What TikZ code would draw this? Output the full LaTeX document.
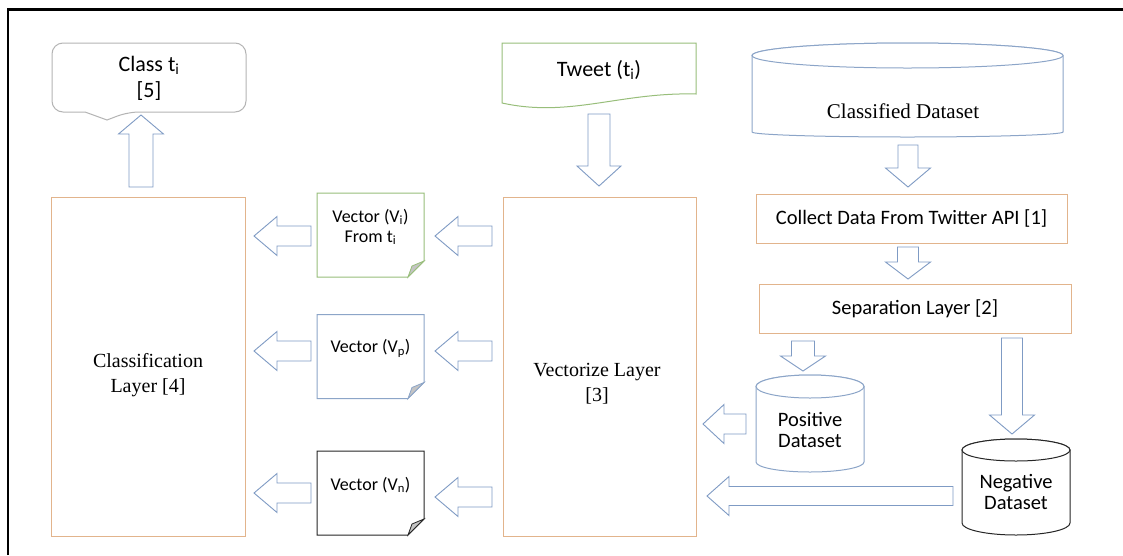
\documentclass[tikz,border=0pt]{standalone}
\usepackage{fontspec}
\setmainfont{Liberation Serif}
\newfontfamily\calibri{Carlito}
\usetikzlibrary{calc}
\definecolor{orangeb}{HTML}{E2B48C}
\definecolor{greenb}{HTML}{98BE7A}
\definecolor{blueb}{HTML}{8CA5C8}
\definecolor{arrowb}{HTML}{7F9BC4}
\definecolor{grayb}{HTML}{B4B4B4}
\definecolor{foldfill}{HTML}{C4C4C4}
\definecolor{darkb}{HTML}{262626}
\tikzset{
  layerbox/.style={draw=orangeb, line width=1pt, fill=white, inner sep=0pt},
  serifbig/.style={font=\fontsize{20}{25}\selectfont, align=center, inner sep=0pt},
  sansmid/.style={font=\calibri\fontsize{20.5}{21}\selectfont, align=center, inner sep=0pt},
  sanssmall/.style={font=\calibri\fontsize{18}{20}\selectfont, align=center, inner sep=0pt},
  sansbig/.style={font=\calibri\fontsize{22}{26}\selectfont, align=center, inner sep=0pt},
  blockarrow/.style={draw=arrowb, line width=0.9pt, fill=white, line join=miter},
  notebox/.style={line width=1pt, fill=white},
  cylshape/.style={line width=1pt, fill=white},
  holder/.style={inner sep=0pt, outer sep=0pt},
}
% block arrows: #1 tail, #2 tip, #3 shaft half width, #4 head half width, #5 head length
\newcommand{\barrowdown}[5]{\draw[blockarrow] let \p1=(#1),\p2=(#2) in
  (\x1-#3pt,\y1) -- (\x1+#3pt,\y1) -- (\x1+#3pt,\y2+#5pt) -- (\x1+#4pt,\y2+#5pt) -- (\x1,\y2)
  -- (\x1-#4pt,\y2+#5pt) -- (\x1-#3pt,\y2+#5pt) -- cycle;}
\newcommand{\barrowup}[5]{\draw[blockarrow] let \p1=(#1),\p2=(#2) in
  (\x1-#3pt,\y1) -- (\x1-#3pt,\y2-#5pt) -- (\x1-#4pt,\y2-#5pt) -- (\x1,\y2)
  -- (\x1+#4pt,\y2-#5pt) -- (\x1+#3pt,\y2-#5pt) -- (\x1+#3pt,\y1) -- cycle;}
\newcommand{\barrowleft}[5]{\draw[blockarrow] let \p1=(#1),\p2=(#2) in
  (\x1,\y1+#3pt) -- (\x2+#5pt,\y1+#3pt) -- (\x2+#5pt,\y1+#4pt) -- (\x2,\y1)
  -- (\x2+#5pt,\y1-#4pt) -- (\x2+#5pt,\y1-#3pt) -- (\x1,\y1-#3pt) -- cycle;}
% cylinder: #1 colour, #2 cx, #3 top centre y, #4 rx, #5 top ry, #6 bottom y, #7 bottom ry
\newcommand{\cylinderdraw}[7]{%
  \draw[cylshape, draw=#1] (#2-#4,#3) -- (#2-#4,#6)
    arc[start angle=180, end angle=360, x radius=#4pt, y radius=#7pt]
    -- (#2+#4,#3) arc[start angle=0, end angle=180, x radius=#4pt, y radius=#5pt] -- cycle;
  \draw[cylshape, draw=#1] (#2,#3) ellipse[x radius=#4pt, y radius=#5pt];}
% folded note: #1 name, #2 colour, #3 position, #4 text
\newcommand{\notedraw}[4]{%
  \node[holder, minimum width=107pt, minimum height=84pt] (#1) at (#3) {};
  \draw[notebox, draw=#2] (#1.north west) -- (#1.north east) -- ($(#1.south east)+(0,-16)$)
    -- ($(#1.south east)+(-16,0)$) -- (#1.south west) -- cycle;
  \filldraw[fill=foldfill, draw=#2, line width=0.8pt] ($(#1.south east)+(0,-16)$)
    -- ($(#1.south east)+(-16,0)$) -- ($(#1.south east)+(-12,-11)$) -- cycle;
  \node[sanssmall] (#1txt) at ($(#1.center)+(0,-8)$) {#4};}

\begin{document}
\begin{tikzpicture}[x=1pt,y=-1pt]
\useasboundingbox (0,0) rectangle (1123,555);
\fill[white] (0,0) rectangle (1123,555);
% frame
\draw[line width=2.5pt] (8,555) -- (8,9.5) -- (1123,9.5);

% ---- callout: Class t_i [5]
\draw[draw=grayb, line width=1pt, fill=white] (52,80) [rounded corners=11pt] -- (52,43) -- (246,43)
  -- (246,112) -- (128,112) [sharp corners] -- (107,120) -- (85,112) [rounded corners=11pt]
  -- (52,112) -- cycle;
\node[sansbig] (classout) at (149,78) {Class t\textsubscript{i}\\{[5]}};

% ---- Tweet document
\draw[draw=greenb, line width=1pt, fill=white] (502,43) -- (696,43) -- (696,94)
  .. controls (620,92) and (570,118) .. (502,103) -- cycle;
\node[sansbig] (tweet) at (599,70) {Tweet (t\textsubscript{i})};

% ---- Classified dataset cylinder
\cylinderdraw{blueb}{907.5}{55.5}{155.5}{12.5}{132}{5}
\node[serifbig, font=\fontsize{21}{25}\selectfont] (classified) at (903,111) {Classified Dataset};

% ---- layer boxes
\node[layerbox, minimum width=194pt, minimum height=339pt] (clsbox) at (148,366.5) {};
\node[serifbig] (clstxt) at (148,375) {Classification\\Layer [4]};
\node[layerbox, minimum width=193pt, minimum height=339pt] (vecbox) at (599.5,366.5) {};
\node[serifbig] (vectxt) at (597,384) {Vectorize Layer\\{[3]}};

\node[layerbox, minimum width=311pt, minimum height=49pt, font=\calibri\fontsize{20.5}{21}\selectfont]
  (collect) at (911.5,218.5) {Collect Data From Twitter API [1]};
\node[layerbox, minimum width=312pt, minimum height=49pt, font=\calibri\fontsize{20.5}{21}\selectfont]
  (separation) at (915,308.5) {Separation Layer [2]};

% ---- vector notes
\notedraw{vi}{greenb}{370.5,235}{Vector (V\textsubscript{i})\\From t\textsubscript{i}}
\notedraw{vp}{blueb}{370.5,356.5}{Vector (V\textsubscript{p})}
\notedraw{vn}{darkb}{370.5,493}{Vector (V\textsubscript{n})}

% ---- positive / negative cylinders
\cylinderdraw{blueb}{810}{386.5}{54}{11.5}{462}{10}
\node[sansmid] (positive) at (810,430) {Positive\\Dataset};
\cylinderdraw{darkb}{1016}{450}{54}{11}{523}{12}
\node[sansmid] (negative) at (1016,492) {Negative\\Dataset};

% ---- arrow end points
\coordinate (upS) at (141,187);   \coordinate (upE) at (141,115);
\coordinate (twS) at (599,114);   \coordinate (twE) at (599,186);
\coordinate (cdS) at (908,145);   \coordinate (cdE) at (908,187);
\coordinate (csS) at (908,247);   \coordinate (csE) at (908,279);
\coordinate (spS) at (803,341);   \coordinate (spE) at (803,371);
\coordinate (snS) at (1012,338);  \coordinate (snE) at (1012,434);
\coordinate (v1S) at (492,236);   \coordinate (v1E) at (435,236);
\coordinate (v2S) at (492,351);   \coordinate (v2E) at (435,351);
\coordinate (v3S) at (492,497);   \coordinate (v3E) at (435,497);
\coordinate (c1S) at (311,236);   \coordinate (c1E) at (254,236);
\coordinate (c2S) at (311,351);   \coordinate (c2E) at (254,351);
\coordinate (c3S) at (311,493);   \coordinate (c3E) at (254,493);
\coordinate (pvS) at (746,424);   \coordinate (pvE) at (703,424);
\coordinate (nvS) at (953,496);   \coordinate (nvE) at (707,496);

\barrowup{upS}{upE}{12}{22.5}{19}
\barrowdown{twS}{twE}{11}{22}{20}
\barrowdown{cdS}{cdE}{10}{22.5}{19}
\barrowdown{csS}{csE}{10.5}{22.5}{17}
\barrowdown{spS}{spE}{11.5}{22.5}{15}
\barrowdown{snS}{snE}{10.5}{22.5}{19}
\barrowleft{v1S}{v1E}{10}{19.5}{23}
\barrowleft{v2S}{v2E}{10}{19.5}{23}
\barrowleft{v3S}{v3E}{10}{19.5}{23}
\barrowleft{c1S}{c1E}{10}{19.5}{23}
\barrowleft{c2S}{c2E}{10}{19.5}{23}
\barrowleft{c3S}{c3E}{10}{19.5}{23}
\barrowleft{pvS}{pvE}{10}{19.5}{21}
\barrowleft{nvS}{nvE}{9.5}{19.5}{22}
\end{tikzpicture}
\end{document}
